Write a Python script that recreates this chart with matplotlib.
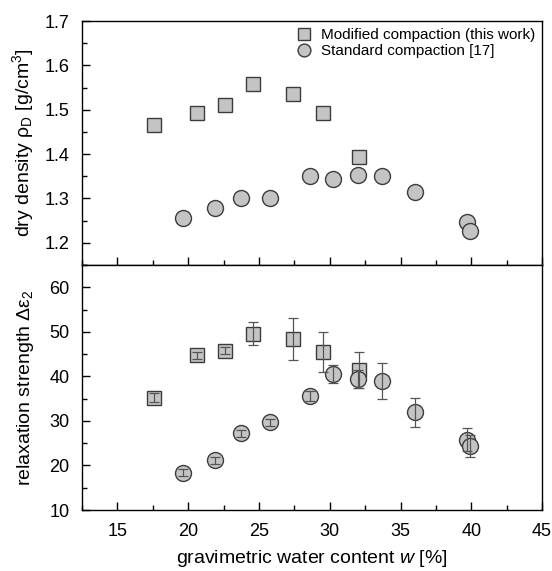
import matplotlib
matplotlib.use("Agg")
import matplotlib.pyplot as plt
from matplotlib.ticker import MultipleLocator

plt.rcParams['font.family'] = ['Liberation Sans', 'DejaVu Sans']
plt.rcParams['mathtext.fontset'] = 'custom'
plt.rcParams['mathtext.rm'] = 'Liberation Sans'
plt.rcParams['mathtext.it'] = 'Liberation Sans:italic'

# modified compaction (this work)
w_mod = [17.6, 20.6, 22.6, 24.6, 27.4, 29.5, 32.1]
rho_mod = [1.465, 1.492, 1.510, 1.558, 1.535, 1.493, 1.393]
eps_mod = [35.2, 44.7, 45.8, 49.6, 48.4, 45.4, 41.4]
err_mod = [1.0, 0.8, 0.8, 2.5, 4.7, 4.5, 4.1]

# standard compaction [17]
w_std = [19.6, 21.9, 23.7, 25.8, 28.6, 30.2, 32.0, 33.7, 36.0, 39.7, 39.9]
rho_std = [1.255, 1.278, 1.302, 1.300, 1.350, 1.343, 1.352, 1.350, 1.314, 1.248, 1.227]
eps_std = [18.4, 21.2, 27.2, 29.7, 35.6, 40.5, 39.5, 39.0, 31.9, 25.8, 24.4]
err_std = [0.8, 0.8, 0.8, 0.8, 1.2, 2.0, 2.0, 4.0, 3.3, 2.6, 2.4]

face = '#c4c4c4'
edge = '#3c3c3c'

fig = plt.figure(figsize=(5.52, 5.71), dpi=100)
ax1 = fig.add_axes([0.1486, 0.5359, 0.8334, 0.4273])
ax2 = fig.add_axes([0.1486, 0.1068, 0.8334, 0.4291], sharex=ax1)

ax1.plot(w_mod, rho_mod, 's', ms=10.5, mfc=face, mec=edge, mew=1.0,
         label='Modified compaction (this work)')
ax1.plot(w_std, rho_std, 'o', ms=11.5, mfc=face, mec=edge, mew=1.0,
         label='Standard compaction [17]')

ax2.plot(w_mod, eps_mod, 's', ms=10.5, mfc=face, mec=edge, mew=1.0, zorder=2)
ax2.plot(w_std, eps_std, 'o', ms=11.5, mfc=face, mec=edge, mew=1.0, zorder=2)
ax2.errorbar(w_mod, eps_mod, yerr=err_mod, fmt='none', ecolor='#555555',
             elinewidth=0.9, capsize=3.5, capthick=0.9, zorder=3)
ax2.errorbar(w_std, eps_std, yerr=err_std, fmt='none', ecolor='#555555',
             elinewidth=0.9, capsize=3.5, capthick=0.9, zorder=3)

ax1.set_xlim(12.5, 45)
ax1.set_ylim(1.15, 1.7)
ax2.set_ylim(10, 65)

ax1.set_yticks([1.2, 1.3, 1.4, 1.5, 1.6, 1.7])
ax1.yaxis.set_minor_locator(MultipleLocator(0.05))
ax2.set_yticks([10, 20, 30, 40, 50, 60])
ax2.yaxis.set_minor_locator(MultipleLocator(5))
ax2.set_xticks([15, 20, 25, 30, 35, 40, 45])
ax2.xaxis.set_minor_locator(MultipleLocator(2.5))

for ax in (ax1, ax2):
    ax.tick_params(which='both', direction='in', top=False, right=False,
                   labelsize=13, width=1.0)
    ax.tick_params(which='major', length=6)
    ax.tick_params(which='minor', length=3.5)
    ax.tick_params(axis='y', pad=9)
    ax.tick_params(axis='x', pad=9)
    for s in ax.spines.values():
        s.set_linewidth(1.0)
ax1.tick_params(axis='x', labelbottom=False)

ax1.set_ylabel(r'dry density $\mathrm{\rho_D}$ [g/cm$^3$]', fontsize=14)
ax2.set_ylabel(r'relaxation strength $\mathrm{\Delta\varepsilon_2}$', fontsize=14)
ax2.set_xlabel(r'gravimetric water content $w$ [%]', fontsize=14, labelpad=6)
ax1.yaxis.set_label_coords(-0.10, 0.5)
ax2.yaxis.set_label_coords(-0.10, 0.5)

ax1.legend(loc='upper right', frameon=False, fontsize=11, markerscale=0.8,
           handletextpad=0.5, borderaxespad=0.05, labelspacing=0.15,
           handlelength=1.2)

fig.savefig('out.png', dpi=100)
